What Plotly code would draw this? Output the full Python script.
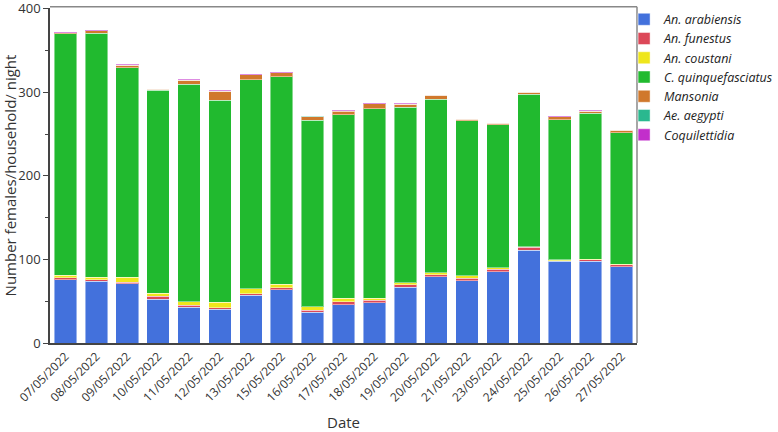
import plotly.graph_objects as go

dates = [
    "07/05/2022", "08/05/2022", "09/05/2022", "10/05/2022", "11/05/2022",
    "12/05/2022", "13/05/2022", "15/05/2022", "16/05/2022", "17/05/2022",
    "18/05/2022", "19/05/2022", "20/05/2022", "21/05/2022", "23/05/2022",
    "24/05/2022", "25/05/2022", "26/05/2022", "27/05/2022",
]
an_arabiensis = [76, 74, 71, 52.5, 43, 40.5, 57, 64, 37, 46, 48, 67, 79.5, 74.5, 85, 111, 98, 98, 91.5]
an_funestus = [2, 2, 1.5, 3.5, 2, 2, 2, 2, 2, 3.5, 3, 2.5, 2.5, 3, 3.5, 3.5, 0.5, 1.5, 2]
an_coustani = [3, 2.5, 6, 3.5, 4.5, 6, 6, 4.5, 4.5, 4, 2.5, 2.5, 2, 2.8, 1.8, 1, 1, 0.5, 1]
c_quinquefasciatus = [289, 292, 251, 243, 260, 242, 250, 248, 223, 220, 227, 210, 208, 186, 171, 182, 168, 175, 157]
mansonia = [1.5, 3, 3, 1.5, 5, 11, 6, 5, 4.5, 4, 6, 4, 4.4, 1.5, 1.5, 2.5, 3.3, 2.5, 3]
ae_aegypti = [0, 0, 0, 0, 0, 0, 0, 0, 0.3, 0.5, 0, 0, 0, 0, 0, 0, 0.3, 0, 0]
coquilettidia = [0.5, 1, 1, 0.5, 1, 1, 0.5, 1, 0.7, 0.5, 1, 1, 1, 0.5, 0.5, 0.7, 0.5, 1, 0.5]

SERIES = [
    ("An. arabiensis", an_arabiensis, "#4371DC"),
    ("An. funestus", an_funestus, "#DC4858"),
    ("An. coustani", an_coustani, "#EFE61C"),
    ("C. quinquefasciatus", c_quinquefasciatus, "#21BA2F"),
    ("Mansonia", mansonia, "#D0782C"),
    ("Ae. aegypti", ae_aegypti, "#2AB88F"),
    ("Coquilettidia", coquilettidia, "#C22FCB"),
]

FONT = "Open Sans, Noto Sans, sans-serif"

fig = go.Figure()
for name, vals, color in SERIES:
    fig.add_trace(
        go.Bar(
            x=dates,
            y=vals,
            name=name,
            marker_color=color,
            marker_line=dict(color="rgba(255,255,255,0.45)", width=1),
        )
    )

fig.update_layout(
    barmode="stack",
    bargap=0.27,
    width=778,
    height=432,
    plot_bgcolor="#FFFFFF",
    paper_bgcolor="#FFFFFF",
    margin=dict(l=50, r=141, t=8, b=89, autoexpand=False),
    font=dict(family=FONT, size=13, color="#333333"),
    legend=dict(
        x=0.978,
        xanchor="left",
        y=1.01,
        yanchor="top",
        traceorder="normal",
        font=dict(family=FONT, size=12.5, color="#222222", style="italic"),
        itemwidth=30,
        tracegroupgap=0,
        bgcolor="rgba(0,0,0,0)",
    ),
)

fig.update_xaxes(
    title=dict(text="Date", font=dict(size=15, color="#333333"), standoff=14),
    tickangle=-45,
    tickfont=dict(size=12, color="#333333"),
    automargin=False,
    showline=True,
    linecolor="#444444",
    linewidth=1.5,
    mirror=False,
    ticks="",
    showgrid=False,
)

fig.update_yaxes(
    title=dict(text="Number females/household/ night", font=dict(size=15, color="#333333"), standoff=4),
    range=[0, 401],
    tickvals=[0, 100, 200, 300, 400],
    tickfont=dict(size=13, color="#333333"),
    ticklabeloverflow="allow",
    automargin=False,
    showline=True,
    linecolor="#444444",
    linewidth=1.5,
    ticks="outside",
    ticklen=5,
    tickcolor="#444444",
    minor=dict(ticks="outside", ticklen=3, dtick=50, tickcolor="#444444"),
    showgrid=False,
    zeroline=False,
)

# grey frame on top and right
fig.add_shape(type="line", xref="paper", yref="paper", x0=0, x1=1, y0=1.004, y1=1.004,
              line=dict(color="#888888", width=1.5))
fig.add_shape(type="line", xref="paper", yref="paper", x0=1, x1=1, y0=0, y1=1.004,
              line=dict(color="#888888", width=1.5))

# drop the default 8px page margin so the figure sits at the window's corner
fig.write_html(
    "out.html",
    config={"displayModeBar": False},
    post_script="document.body.style.margin='0';",
)
